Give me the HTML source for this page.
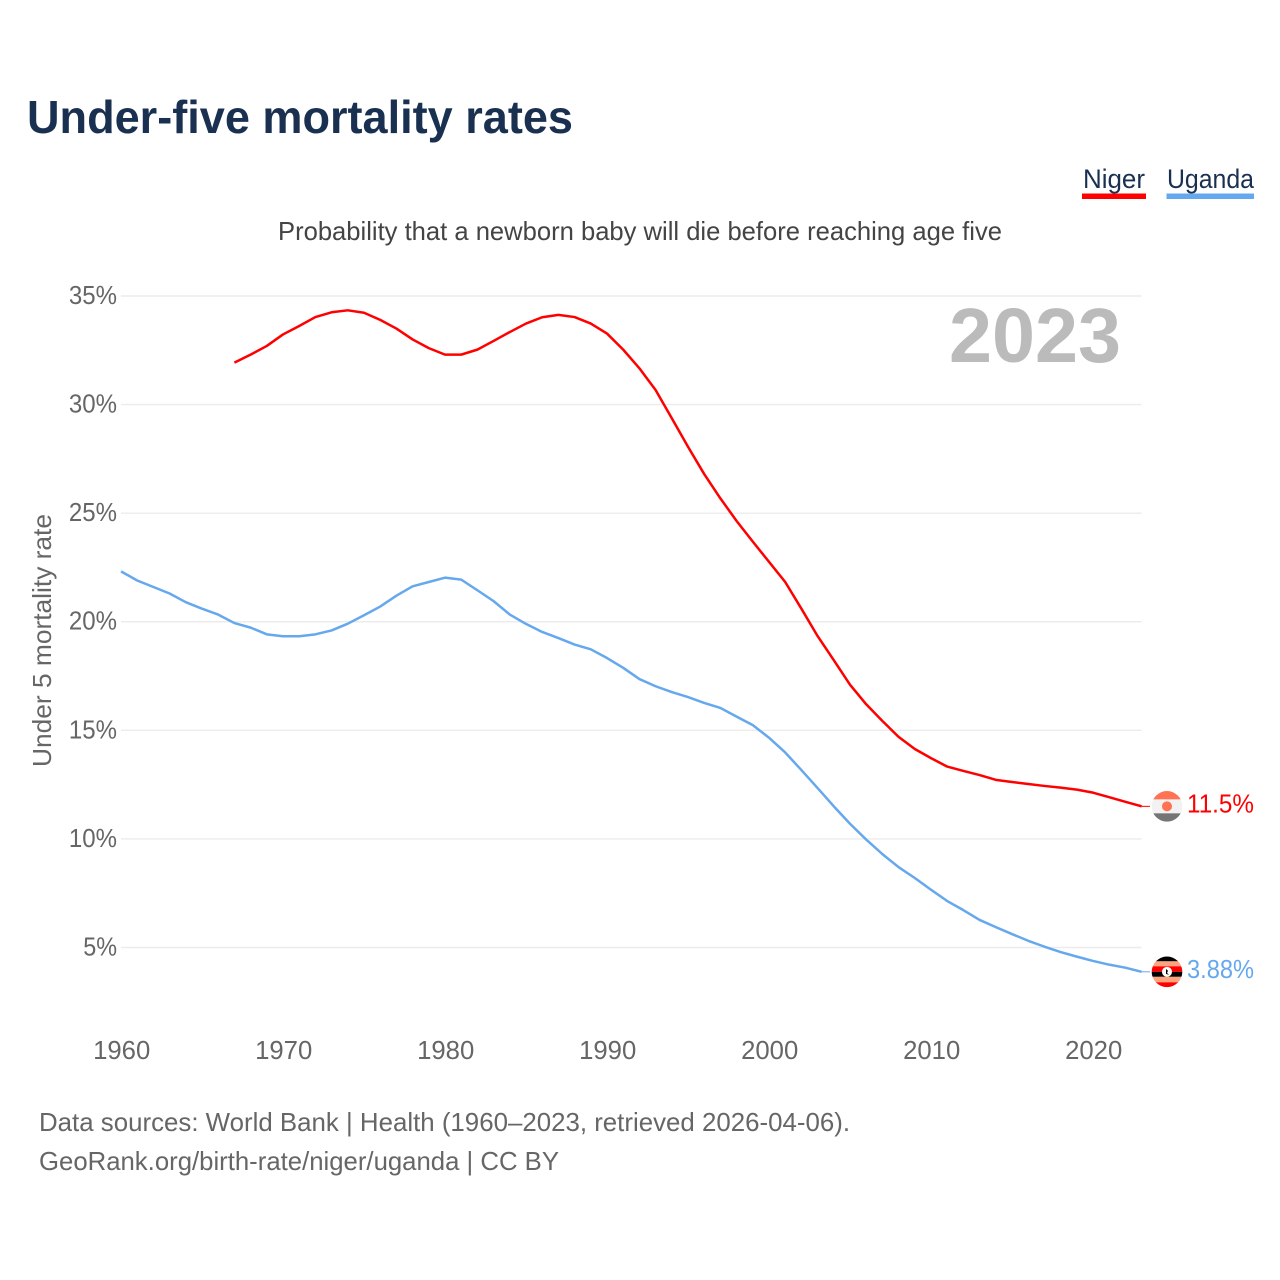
<!DOCTYPE html>
<html lang="en">
<head>
<meta charset="utf-8">
<title>Under-five mortality rates</title>
<style>
html,body{margin:0;padding:0;background:#fff;width:1280px;height:1280px;overflow:hidden}
svg{display:block}
text{font-family:"Liberation Sans",sans-serif}
</style>
</head>
<body>
<svg id="chart" width="1280" height="1280" viewBox="0 0 1280 1280" xmlns="http://www.w3.org/2000/svg">
  <defs>
    <clipPath id="flag-clip"><circle cx="0" cy="0" r="15.3"></circle></clipPath>
  </defs>
  <rect width="1280" height="1280" fill="#fff"></rect>
  <text x="27" y="133" font-size="46" font-weight="700" fill="#1a3050" textLength="546" lengthAdjust="spacingAndGlyphs">Under-five mortality rates</text>

  <g>
    <text x="1083" y="188" font-size="27" fill="#1a3050" textLength="62" lengthAdjust="spacingAndGlyphs">Niger</text>
    <rect x="1082" y="193.5" width="64" height="5.5" fill="#ff0000"></rect>
  </g>
  <g>
    <text x="1167" y="188" font-size="27" fill="#1a3050" textLength="87" lengthAdjust="spacingAndGlyphs">Uganda</text>
    <rect x="1166.5" y="193.5" width="87.5" height="5.5" fill="#66a8ee"></rect>
  </g>

  <text x="278" y="240" font-size="26" fill="#444" textLength="724" lengthAdjust="spacingAndGlyphs">Probability that a newborn baby will die before reaching age five</text>

  <g id="grid"></g>
  <g id="y-ticks"></g>
  <g id="x-ticks"></g>

  <text x="1121" y="362" text-anchor="end" font-size="77" font-weight="700" fill="#bbbbbb" textLength="172" lengthAdjust="spacingAndGlyphs">2023</text>

  <text transform="translate(51 767) rotate(-90)" x="0" y="0" font-size="26" fill="#666" textLength="253" lengthAdjust="spacingAndGlyphs">Under 5 mortality rate</text>

  <path id="line-niger" fill="none" stroke="#ff0000" stroke-width="2.5" stroke-linejoin="round"></path>
  <path id="line-uganda" fill="none" stroke="#66a8ee" stroke-width="2.5" stroke-linejoin="round"></path>
  <path id="connector-niger" fill="none" stroke="#ff0000" stroke-width="1"></path>
  <path id="connector-uganda" fill="none" stroke="#66a8ee" stroke-width="1"></path>

  <g id="flag-niger">
    <g clip-path="url(#flag-clip)">
      <rect x="-16" y="-16" width="32" height="32" fill="#f2f2f2"></rect>
      <rect x="-16" y="-16" width="32" height="9" fill="#ff7352"></rect>
      <rect x="-16" y="7" width="32" height="9" fill="#757575"></rect>
      <circle cx="0" cy="0" r="5" fill="#ff7352"></circle>
    </g>
  </g>
  <g id="flag-uganda">
    <g clip-path="url(#flag-clip)">
      <rect x="-16" y="-16" width="32" height="5.5" fill="#000"></rect>
      <rect x="-16" y="-10.5" width="32" height="5" fill="#ffa27e"></rect>
      <rect x="-16" y="-5.5" width="32" height="5.5" fill="#ff0000"></rect>
      <rect x="-16" y="0" width="32" height="5" fill="#000"></rect>
      <rect x="-16" y="5" width="32" height="5.5" fill="#ffa27e"></rect>
      <rect x="-16" y="10.5" width="32" height="5.5" fill="#ff0000"></rect>
      <circle cx="0" cy="0" r="5" fill="#fff"></circle>
      <path d="M-1 -3 L1 -1 L0 1 L2 3 L-1 2 Z" fill="#000"></path>
    </g>
  </g>

  <text id="end-label-niger" x="1254" text-anchor="end" font-size="26" fill="#ff0000" textLength="67" lengthAdjust="spacingAndGlyphs"></text>
  <text id="end-label-uganda" x="1254" text-anchor="end" font-size="26" fill="#66a8ee" textLength="67" lengthAdjust="spacingAndGlyphs"></text>

  <text x="39" y="1131" font-size="26" fill="#666" textLength="811" lengthAdjust="spacingAndGlyphs">Data sources: World Bank | Health (1960–2023, retrieved 2026-04-06).</text>
  <text x="39" y="1170" font-size="26" fill="#666" textLength="520" lengthAdjust="spacingAndGlyphs">GeoRank.org/birth-rate/niger/uganda | CC BY</text>
</svg>
<script>
const yTickValues = [5, 10, 15, 20, 25, 30, 35];
const xTickValues = [1960, 1970, 1980, 1990, 2000, 2010, 2020];
const firstYearUganda = 1960;
const firstYearNiger = 1967;
const valuesUganda = [22.32, 21.9, 21.6, 21.3, 20.9, 20.6, 20.33, 19.94, 19.73, 19.42,
  19.33, 19.33, 19.42, 19.6, 19.91, 20.3, 20.7, 21.2, 21.63, 21.83,
  22.03, 21.94, 21.45, 20.95, 20.33, 19.9, 19.53, 19.25, 18.95, 18.73,
  18.33, 17.88, 17.36, 17.03, 16.76, 16.53, 16.26, 16.03, 15.63, 15.24,
  14.66, 13.98, 13.17, 12.34, 11.5, 10.7, 9.97, 9.3, 8.7, 8.2,
  7.66, 7.14, 6.72, 6.27, 5.94, 5.62, 5.31, 5.04, 4.79, 4.58,
  4.38, 4.21, 4.07, 3.88];
const valuesNiger = [31.93, 32.3, 32.7, 33.23, 33.62, 34.03, 34.25, 34.34, 34.23, 33.9,
  33.5, 33.0, 32.6, 32.3, 32.3, 32.53, 32.93, 33.34, 33.73, 34.02,
  34.13, 34.03, 33.73, 33.27, 32.53, 31.67, 30.67, 29.37, 28.06, 26.8,
  25.68, 24.64, 23.69, 22.76, 21.83, 20.6, 19.34, 18.23, 17.1, 16.2,
  15.43, 14.7, 14.14, 13.72, 13.33, 13.13, 12.94, 12.72, 12.62, 12.53,
  12.44, 12.36, 12.27, 12.13, 11.92, 11.71, 11.5];
const endLabelNiger = "11.5%";
const endLabelUganda = "3.88%";

const NS = "http://www.w3.org/2000/svg";
function xScale(year) { return 121 + (year - 1960) * 16.2; }
function yScale(v) { return 947.5 - (v - 5) * 21.717; }
function linePath(values, firstYear) {
  return values.map(function (v, i) {
    return (i ? "L" : "M") + xScale(firstYear + i).toFixed(2) + " " + yScale(v).toFixed(2);
  }).join(" ");
}

const gridGroup = document.getElementById("grid");
const yTickGroup = document.getElementById("y-ticks");
const xTickGroup = document.getElementById("x-ticks");

yTickValues.forEach(function (v) {
  const line = document.createElementNS(NS, "line");
  
  
  line.setAttribute("x1", xScale(1960));
  line.setAttribute("x2", xScale(2023));
  line.setAttribute("y1", yScale(v));
  line.setAttribute("y2", yScale(v));
  line.setAttribute("stroke", "#ececec");
  line.setAttribute("stroke-width", "1.4");
  gridGroup.appendChild(line);

  const label = document.createElementNS(NS, "text");
  
  
  const str = v + "%";
  label.setAttribute("x", 117);
  label.setAttribute("y", yScale(v) + 8);
  label.setAttribute("text-anchor", "end");
  label.setAttribute("font-size", "26");
  label.setAttribute("fill", "#666");
  label.setAttribute("textLength", (str.length - 1) * 14.3 + 19.5);
  label.setAttribute("lengthAdjust", "spacingAndGlyphs");
  label.textContent = str;
  yTickGroup.appendChild(label);
});

xTickValues.forEach(function (year) {
  const label = document.createElementNS(NS, "text");
  
  
  label.setAttribute("x", xScale(year) + 0.7);
  label.setAttribute("y", 1059);
  label.setAttribute("text-anchor", "middle");
  label.setAttribute("font-size", "25.7");
  label.setAttribute("fill", "#666");
  label.textContent = String(year);
  xTickGroup.appendChild(label);
});

document.getElementById("line-niger").setAttribute("d", linePath(valuesNiger, firstYearNiger));
document.getElementById("line-uganda").setAttribute("d", linePath(valuesUganda, firstYearUganda));

function placeEnd(values, key, labelText) {
  const yEnd = yScale(values[values.length - 1]);
  document.getElementById("connector-" + key).setAttribute("d", "M" + xScale(2023) + " " + yEnd + " H1150");
  document.getElementById("flag-" + key).setAttribute("transform", "translate(1167 " + yEnd + ")");
  const t = document.getElementById("end-label-" + key);
  t.setAttribute("y", yEnd + 6);
  t.textContent = labelText;
}
placeEnd(valuesNiger, "niger", endLabelNiger);
placeEnd(valuesUganda, "uganda", endLabelUganda);
</script>
</body>
</html>
